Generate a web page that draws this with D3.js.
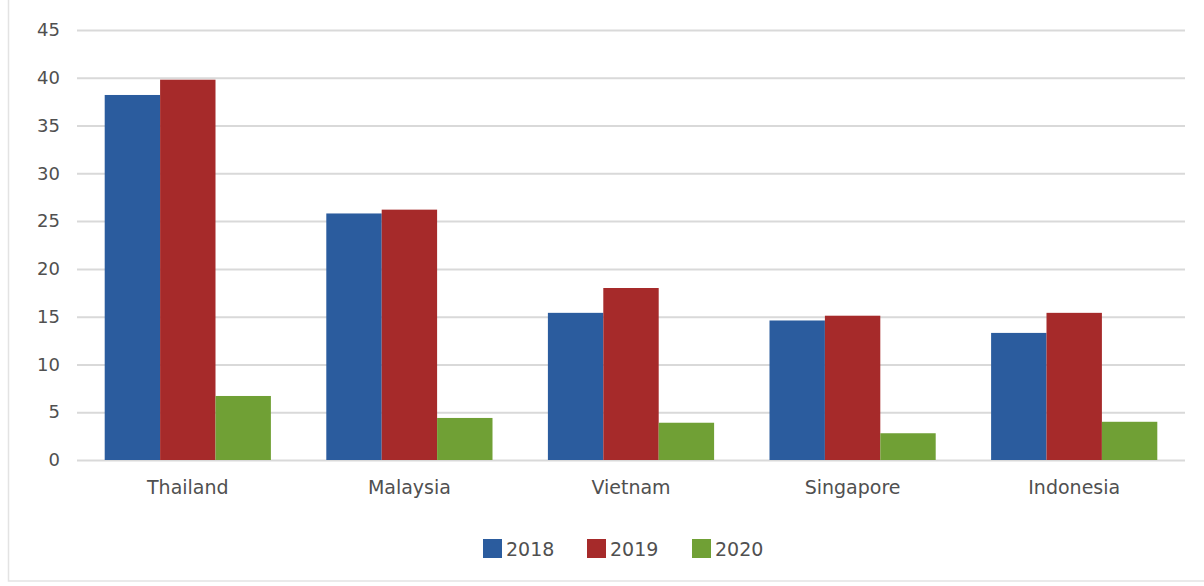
<!DOCTYPE html>
<html><head><meta charset="utf-8">
<script src="https://cdn.jsdelivr.net/npm/d3@7"></script>
<style>body{margin:0;background:#fff}svg{display:block}</style>
</head><body>
<script>
const categories = ["Thailand","Malaysia","Vietnam","Singapore","Indonesia"];
const seriesNames = ["2018","2019","2020"];
const values2018 = [38.2, 25.8, 15.4, 14.6, 13.3];
const values2019 = [39.8, 26.2, 18.0, 15.1, 15.4];
const values2020 = [6.7, 4.4, 3.9, 2.8, 4.0];
const yTicks = [0,5,10,15,20,25,30,35,40,45];
const colors = ["#2b5c9e","#a62a2a","#70a035"];

const series = [values2018, values2019, values2020];
const W = 1204, H = 586;
const FONT = "DejaVu Sans, sans-serif";
const TXT = "#505050";
const svg = d3.select("body").append("svg").attr("width", W).attr("height", H);

// outer frame
svg.append("rect").attr("x",8.5).attr("y",-2).attr("width",W+10).attr("height",583)
  .attr("fill","none").attr("stroke","#e3e3e3").attr("stroke-width",1.5);

const mLeft = 77, mRight = 1185, mTop = 30, mBottom = 460;
const y = d3.scaleLinear().domain([0,45]).range([mBottom, mTop]);
const x0 = d3.scaleBand().domain(categories).range([mLeft,mRight]).paddingInner(0.25).paddingOuter(0.125);
const x1 = d3.scaleBand().domain(seriesNames).range([0, x0.bandwidth()]);

// gridlines
const yAxis = d3.axisLeft(y).tickValues(yTicks).tickSize(-(mRight-mLeft)).tickPadding(17);
const gy = svg.append("g").attr("transform",`translate(${mLeft},0)`).call(yAxis);
gy.select(".domain").remove();
gy.selectAll(".tick line").attr("stroke","#d9d9d9").attr("stroke-width",2);
gy.selectAll(".tick text").attr("fill",TXT).attr("font-family",FONT).attr("font-size",18);

// bars
categories.forEach((c,i)=>{
  series.forEach((vals,s)=>{
    svg.append("rect")
      .attr("x", x0(c)+x1(seriesNames[s]))
      .attr("y", y(vals[i]))
      .attr("width", x1.bandwidth())
      .attr("height", y(0)-y(vals[i]))
      .attr("fill", colors[s]);
  });
});

// x axis labels
const xAxis = d3.axisBottom(x0).tickSize(0).tickPadding(21);
const gx = svg.append("g").attr("transform",`translate(0,${mBottom})`).call(xAxis);
gx.select(".domain").remove();
gx.selectAll(".tick text").attr("fill",TXT).attr("font-family",FONT).attr("font-size",19);

// legend
const legendX = [483, 587, 692];
seriesNames.forEach((n,s)=>{
  const g = svg.append("g").attr("transform",`translate(${legendX[s]},539)`);
  g.append("rect").attr("x",0).attr("y",0).attr("width",19).attr("height",19).attr("fill",colors[s]);
  g.append("text").attr("x",23).attr("y",17).text(n).attr("fill",TXT)
    .attr("font-family",FONT).attr("font-size",19);
});
</script>
</body></html>
